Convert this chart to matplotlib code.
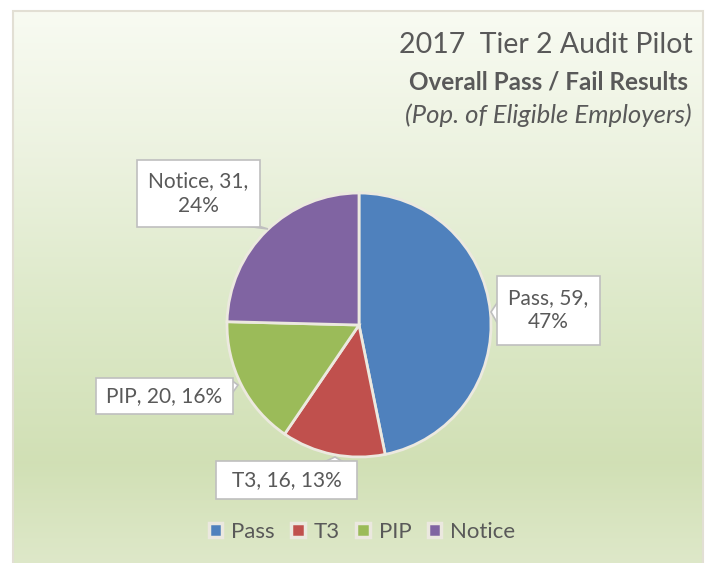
import matplotlib
matplotlib.use('Agg')
import matplotlib.pyplot as plt
from matplotlib.patches import Rectangle, Polygon
import numpy as np

categories = ['Pass', 'T3', 'PIP', 'Notice']
counts = [59, 16, 20, 31]
pct_labels = ['47%', '13%', '16%', '24%']
colors = ['#4f81bd', '#c0504d', '#9bbb59', '#8064a2']

W, H = 707, 563
plt.rcParams['font.family'] = ['Lato', 'DejaVu Sans']

fig = plt.figure(figsize=(W / 100, H / 100), dpi=100)
ax = fig.add_axes([0, 0, 1, 1])

# background gradient (top is white-ish, greener to the bottom)
stops_y = [0, 150, 300, 460, 563]
stops_c = [(0.973, 0.984, 0.949), (0.925, 0.949, 0.875), (0.867, 0.914, 0.788),
           (0.820, 0.878, 0.710), (0.871, 0.910, 0.788)]
ys = np.arange(H)
grad = np.zeros((H, 1, 3))
for k in range(3):
    grad[:, 0, k] = np.interp(ys, stops_y, [c[k] for c in stops_c])
ax.imshow(grad, extent=(13, 703, 0, H - 11), aspect='auto', origin='upper', zorder=0)
ax.add_patch(Rectangle((13, -5), 690, H - 11 + 5, fill=False, ec='#e2dfd4', lw=1.5, zorder=1))

# pie
cx, cy, r = 359, H - 325, 132
wedges, _ = ax.pie(counts, colors=colors, startangle=90, counterclock=False,
                   center=(cx, cy), radius=r, frame=True,
                   wedgeprops=dict(edgecolor='#ece9df', linewidth=2))
for w in wedges:
    w.set_zorder(3)
ax.set_xlim(0, W)
ax.set_ylim(0, H)
ax.set_aspect('auto')
ax.axis('off')


def callout(x0, y0, x1, y1, text, ptr):
    # box in pixel coords (top-left origin), ptr = three points of pointer
    yb0, yb1 = H - y1, H - y0
    poly = Polygon([(px, H - py) for px, py in ptr], closed=True, fc='white',
                   ec='#bfbfbf', lw=1.2, zorder=4)
    ax.add_patch(poly)
    ax.add_patch(Rectangle((x0, yb0), x1 - x0, yb1 - yb0, fc='white',
                           ec='#bfbfbf', lw=1.2, zorder=5))
    ax.add_patch(Rectangle((x0 + 0.8, yb0 + 0.8), x1 - x0 - 1.6, yb1 - yb0 - 1.6,
                           fc='white', ec='none', zorder=6))
    ax.text((x0 + x1) / 2, (yb0 + yb1) / 2, text, ha='center', va='center',
            fontsize=15, color='#595959', linespacing=1.25, zorder=7)


labels = ['%s, %d, %s' % (c, n, p) for c, n, p in zip(categories, counts, pct_labels)]
callout(497, 276, 600, 345, labels[0].replace(', 47', ',\n47'),
        [(499, 300), (491, 312), (499, 326)])
callout(216, 461, 357, 499, labels[1], [(322, 463), (335, 457), (345, 463)])
callout(96, 378, 233, 414, labels[2], [(231, 380), (238, 385), (231, 395)])
callout(137, 160, 260, 227, labels[3].replace(', 24', ',\n24'),
        [(238, 225), (268, 229), (255, 225)])

# title
ax.text(693, H - 45, '2017  Tier 2 Audit Pilot', ha='right', va='center',
        fontsize=20.5, color='#595959')
ax.text(688, H - 82, 'Overall Pass / Fail Results', ha='right', va='center',
        fontsize=17.5, color='#595959', fontweight='bold')
ax.text(692, H - 115, '(Pop. of Eligible Employers)', ha='right', va='center',
        fontsize=18.5, color='#595959', style='italic')

# legend
handles = [Rectangle((0, 0), 1, 1, fc=c, ec='#ebe8df', lw=2.5) for c in colors]
leg = ax.legend(handles, categories, loc='center', bbox_to_anchor=(362 / W, 1 - 532 / H),
                ncol=4, frameon=False, fontsize=16, handlelength=0.6, handleheight=0.6,
                handletextpad=0.4, columnspacing=0.75, labelcolor='#595959')

fig.savefig('out.png', dpi=100)
